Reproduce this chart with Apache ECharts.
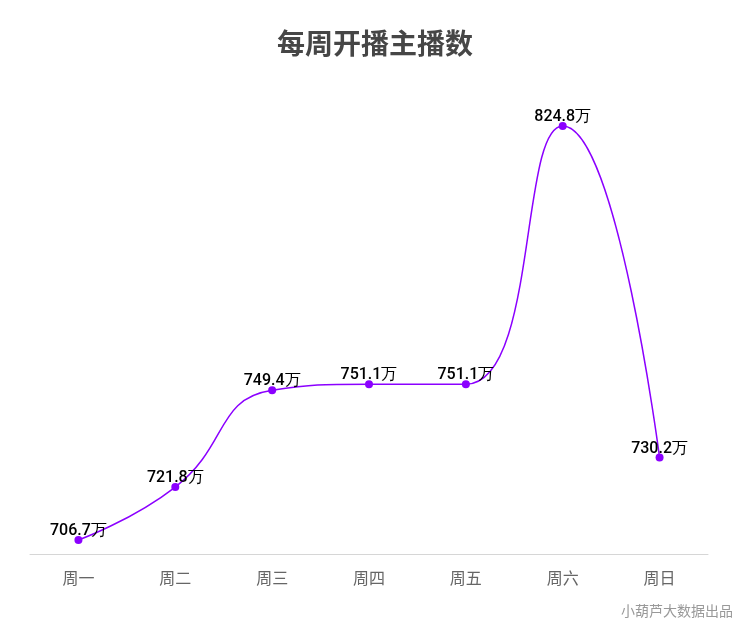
<!DOCTYPE html>
<html><head><meta charset="utf-8">
<script src="https://cdn.jsdelivr.net/npm/echarts@6/dist/echarts.min.js"></script>
<style>html,body{margin:0;padding:0;background:#fff}#c{width:750px;height:630px}</style>
</head><body><div id="c"></div>
<script>
const categories = ['周一','周二','周三','周四','周五','周六','周日'];
const values = [706.7, 721.8, 749.4, 751.1, 751.1, 824.8, 730.2];
const titleText = '每周开播主播数';
const sourceText = '小葫芦大数据出品';

const chart = echarts.init(document.getElementById('c'));
chart.setOption({
  backgroundColor: '#fff',
  title: {
    text: titleText, left: 'center', top: 24,
    textStyle: { fontSize: 28, fontWeight: 'bold', color: '#464646', fontFamily: 'Noto Sans CJK SC' }
  },
  graphic: [{
    type: 'text', right: 17, top: 604,
    style: { text: sourceText, fill: '#999', fontSize: 14, fontFamily: 'Noto Sans CJK SC' }
  }],
  grid: { left: 30, right: 42, top: 100, bottom: 76, containLabel: false },
  xAxis: {
    type: 'category', data: categories, boundaryGap: true,
    axisLine: { lineStyle: { color: '#d6d6d6' } },
    axisTick: { show: false },
    axisLabel: { color: '#666', fontSize: 16, margin: 16, fontFamily: 'Noto Sans CJK SC' }
  },
  yAxis: {
    type: 'value', min: 702.7, max: 832.2, show: false,
    splitLine: { show: false }
  },
  series: [{
    type: 'line', data: values, smooth: true,
    symbol: 'circle', symbolSize: 8,
    itemStyle: { color: '#8b00ff' },
    lineStyle: { color: '#8b00ff', width: 1.5 },
    label: {
      show: true, position: 'top', distance: -3,
      color: '#000', fontSize: 16, fontWeight: 500, fontFamily: 'Roboto',
      formatter: p => p.value + '万'
    }
  }]
});
</script></body></html>
